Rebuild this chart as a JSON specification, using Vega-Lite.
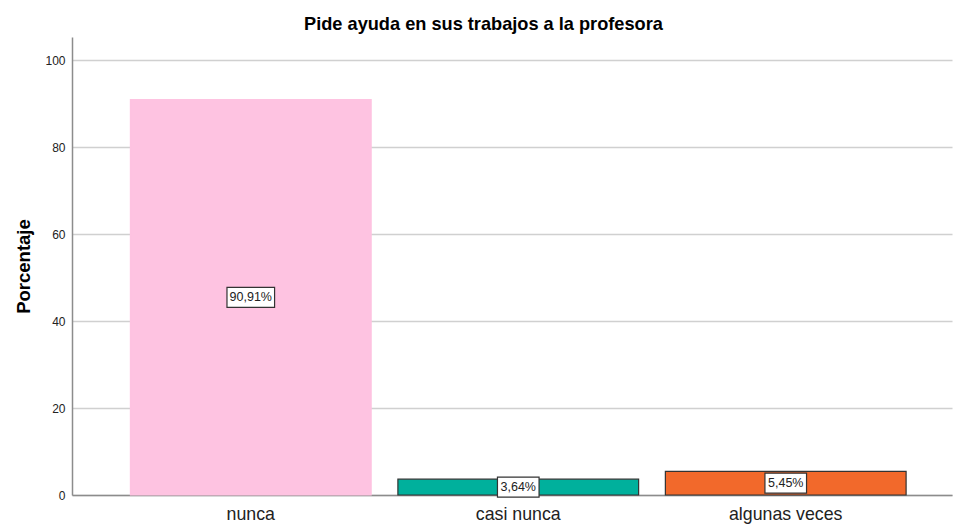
{
  "$schema": "https://vega.github.io/schema/vega-lite/v6.json",
  "autosize": {"type": "none"},
  "width": 880,
  "height": 458,
  "padding": {"left": 72, "top": 37, "right": 1, "bottom": 29},
  "background": "white",
  "config": {
    "font": "Liberation Sans",
    "view": {"stroke": null}
  },
  "title": {
    "text": "Pide ayuda en sus trabajos a la profesora",
    "fontSize": 18.2,
    "fontWeight": "bold",
    "font": "Liberation Sans",
    "color": "#000000",
    "anchor": "middle",
    "frame": "bounds",
    "offset": 3
  },
  "data": {
    "values": [
      {"categoria": "nunca", "porcentaje": 90.91, "etiqueta": "90,91%"},
      {"categoria": "casi nunca", "porcentaje": 3.64, "etiqueta": "3,64%"},
      {"categoria": "algunas veces", "porcentaje": 5.45, "etiqueta": "5,45%"}
    ]
  },
  "encoding": {
    "x": {
      "field": "categoria",
      "type": "nominal",
      "sort": null,
      "scale": {"paddingInner": 0.1, "paddingOuter": 0.195, "align": 0.56},
      "axis": {
        "title": null,
        "labelAngle": 0,
        "labelFontSize": 17.75,
        "labelColor": "#222222",
        "labelPadding": 10,
        "ticks": false,
        "domainColor": "#8c8c8c",
        "domainWidth": 1.5,
        "grid": false
      }
    }
  },
  "layer": [
    {
      "mark": {"type": "bar", "strokeWidth": 1.2},
      "encoding": {
        "y": {
          "field": "porcentaje",
          "type": "quantitative",
          "scale": {"domain": [0, 105.3], "nice": false},
          "axis": {
            "title": "Porcentaje",
            "titleFontSize": 18.5,
            "titleFontWeight": "bold",
            "titleColor": "#000000",
            "titlePadding": 11,
            "values": [0, 20, 40, 60, 80, 100],
            "labelFontSize": 12,
            "labelColor": "#222222",
            "labelPadding": 7,
            "ticks": false,
            "domainColor": "#8c8c8c",
            "domainWidth": 1.5,
            "gridColor": "#d0d0d0",
            "gridWidth": 1.5
          }
        },
        "color": {
          "field": "categoria",
          "type": "nominal",
          "scale": {
            "domain": ["nunca", "casi nunca", "algunas veces"],
            "range": ["#fec3e1", "#00b09c", "#f2692b"]
          },
          "legend": null
        },
        "stroke": {
          "field": "categoria",
          "type": "nominal",
          "scale": {
            "domain": ["nunca", "casi nunca", "algunas veces"],
            "range": ["#fec3e1", "#333333", "#333333"]
          },
          "legend": null
        }
      }
    },
    {
      "transform": [{"calculate": "datum.porcentaje / 2", "as": "medio"}],
      "mark": {"type": "point", "filled": true, "fill": "white", "stroke": "#333333", "strokeWidth": 1.2, "opacity": 1, "size": 400},
      "encoding": {
        "y": {"field": "medio", "type": "quantitative"},
        "shape": {
          "field": "categoria",
          "type": "nominal",
          "scale": {
            "domain": ["nunca", "casi nunca", "algunas veces"],
            "range": [
              "M-2.38,-1L2.38,-1L2.38,1L-2.38,1Z",
              "M-2.08,-1L2.08,-1L2.08,1L-2.08,1Z",
              "M-2.08,-1L2.08,-1L2.08,1L-2.08,1Z"
            ]
          },
          "legend": null
        }
      }
    },
    {
      "transform": [{"calculate": "datum.porcentaje / 2", "as": "medio"}],
      "mark": {"type": "text", "fontSize": 12.5, "color": "#222222", "baseline": "middle", "align": "center"},
      "encoding": {
        "y": {"field": "medio", "type": "quantitative"},
        "text": {"field": "etiqueta", "type": "nominal"}
      }
    }
  ]
}
